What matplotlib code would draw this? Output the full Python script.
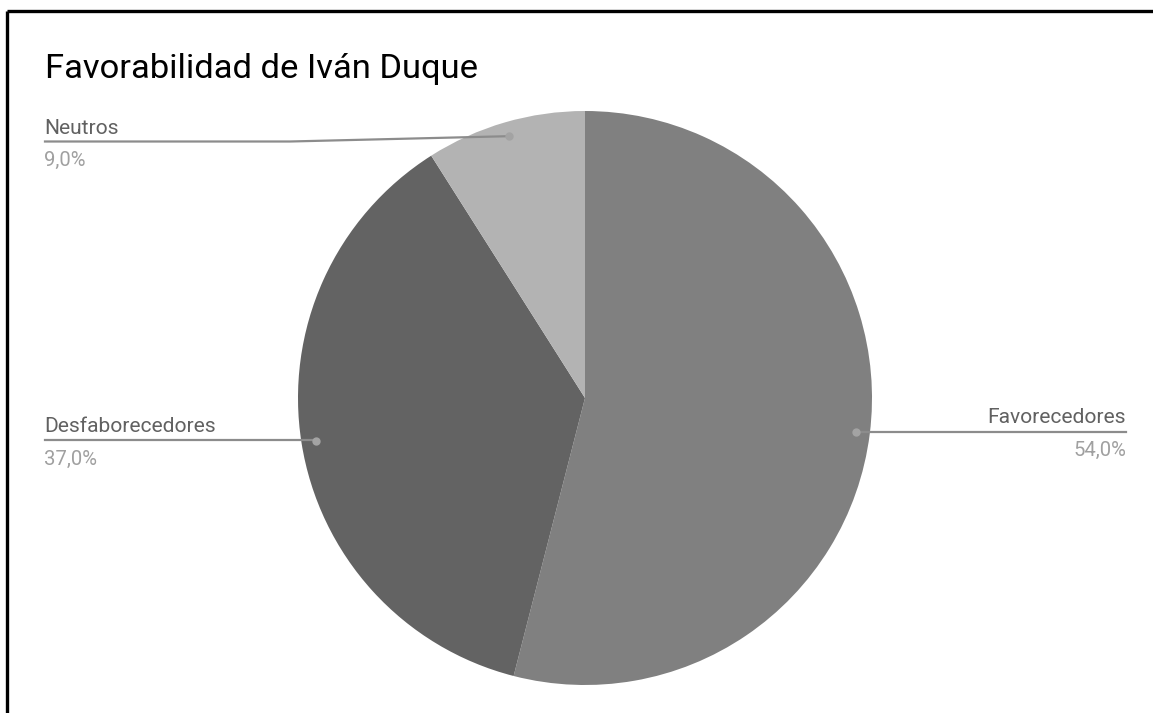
import numpy as np
import matplotlib
matplotlib.use("Agg")
import matplotlib.pyplot as plt

# ---- data ----
categories = ["Favorecedores", "Desfaborecedores", "Neutros"]
values = [54.0, 37.0, 9.0]
pct_labels = ["54,0%", "37,0%", "9,0%"]
colors = ["#808080", "#636363", "#b3b3b3"]
title = "Favorabilidad de Iván Duque"

W, H = 1153, 713
plt.rcParams['font.family'] = ['Roboto', 'DejaVu Sans']
fig = plt.figure(figsize=(W / 100, H / 100), dpi=100)
fig.patch.set_facecolor("white")

# pie axes: centre (585, 398) px, radius 287 px (top-down coords)
cx, cy, r = 585, 398, 287
ax = fig.add_axes([(cx - r) / W, (H - (cy + r)) / H, 2 * r / W, 2 * r / H])
ax.pie(values, colors=colors, startangle=90, counterclock=False,
       radius=1.0, wedgeprops=dict(linewidth=0))
ax.set_xlim(-1, 1)
ax.set_ylim(-1, 1)
ax.set_aspect("equal")
ax.axis("off")

# overlay axes in pixel coordinates (top-down)
ov = fig.add_axes([0, 0, 1, 1], zorder=5)
ov.set_xlim(0, W)
ov.set_ylim(H, 0)
ov.axis("off")
ov.patch.set_alpha(0)

# compute dot positions from the pie angles (mid-angle, 0.95 radius)
total = sum(values)
cum = np.cumsum([0] + values[:-1])
fig.canvas.draw()
dots = []
for v, c0 in zip(values, cum):
    mid = (c0 + v / 2) / total * 360.0
    theta = np.deg2rad(90 - mid)
    xd, yd = 0.95 * np.cos(theta), 0.95 * np.sin(theta)
    px, py = ax.transData.transform((xd, yd))
    dots.append((px, H - py))

line_col = "#8c8c8c"
dot_col = "#a3a3a3"
lab_col = "#616161"
pct_col = "#a0a0a0"
lab_fs = 15.1
pct_fs = 14.6

# Favorecedores (right)
dx, dy = dots[0]
ov.plot([dx, 1126], [432, 432], color=line_col, lw=1.6)
ov.plot([dx], [dy], "o", color=dot_col, ms=6, mec="none")
ov.text(1126, 423, categories[0], ha="right", va="baseline", fontsize=lab_fs, color=lab_col)
ov.text(1126, 456, pct_labels[0], ha="right", va="baseline", fontsize=pct_fs, color=pct_col)

# Desfaborecedores (left)
dx, dy = dots[1]
ov.plot([45, dx], [440, 440], color=line_col, lw=1.6)
ov.plot([dx], [dy], "o", color=dot_col, ms=6, mec="none")
ov.text(44, 432, categories[1], ha="left", va="baseline", fontsize=lab_fs, color=lab_col)
ov.text(44, 465, pct_labels[1], ha="left", va="baseline", fontsize=pct_fs, color=pct_col)

# Neutros (top left)
dx, dy = dots[2]
ov.plot([45, 290, dx], [141.5, 141.5, dy], color=line_col, lw=1.6)
ov.plot([dx], [dy], "o", color=dot_col, ms=6, mec="none")
ov.text(44, 134, categories[2], ha="left", va="baseline", fontsize=lab_fs, color=lab_col)
ov.text(44, 166, pct_labels[2], ha="left", va="baseline", fontsize=pct_fs, color=pct_col)

# title
ov.text(45, 78, title, ha="left", va="baseline", fontsize=24.8, color="#000000")

# frame (top and left borders)
ov.plot([7, W], [11, 11], color="#000000", lw=2.4, solid_capstyle="butt")
ov.plot([7, 7], [11, H], color="#000000", lw=2.4, solid_capstyle="butt")

fig.savefig("out.png", dpi=100, facecolor="white")
